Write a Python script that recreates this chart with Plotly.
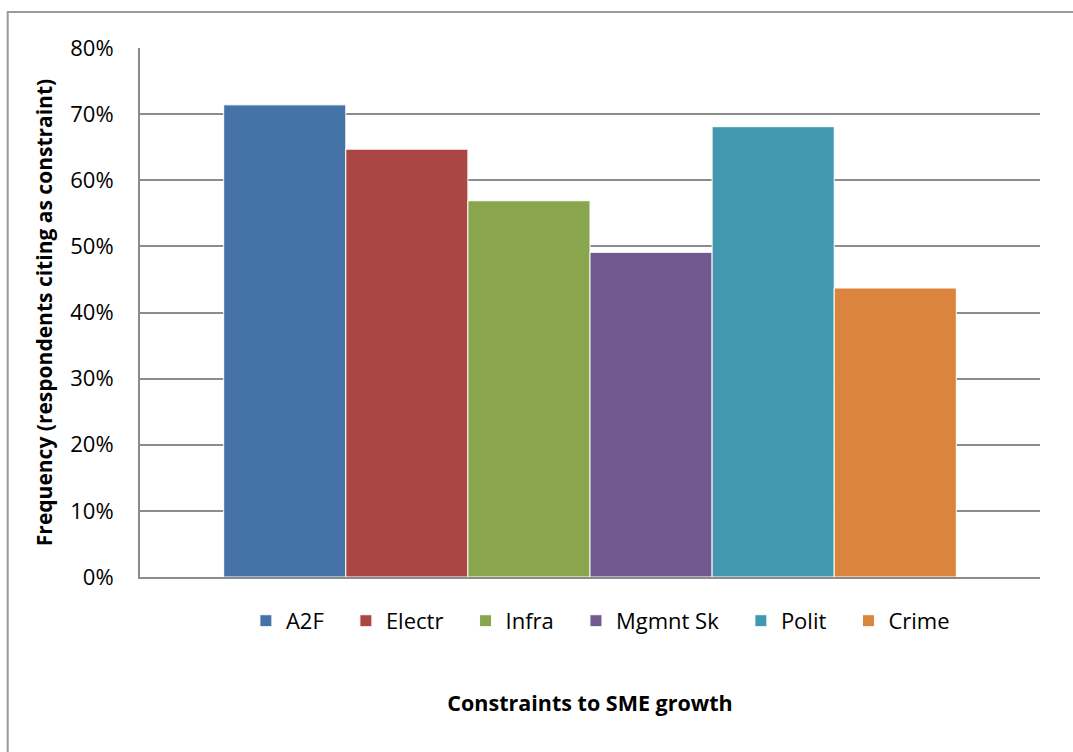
import plotly.graph_objects as go

# Share of respondents citing each constraint to SME growth
series_names = ["A2F", "Electr", "Infra", "Mgmnt Sk", "Polit", "Crime"]
series_values = [0.714, 0.647, 0.569, 0.491, 0.681, 0.437]
series_colors = ["#4572A7", "#AA4643", "#89A54E", "#71588F", "#4198AF", "#DB843D"]
category = [""]

y_ticks = [0, 0.1, 0.2, 0.3, 0.4, 0.5, 0.6, 0.7, 0.8]

FONT = "Open Sans"
GRID = "#8c8c8c"
LEGEND_PAD = "\u00a0" * 3  # extra room between legend entries

fig = go.Figure()
for name, val, col in zip(series_names, series_values, series_colors):
    fig.add_trace(go.Bar(
        x=category, y=[val], name=name + LEGEND_PAD,
        marker=dict(color=col, line=dict(color="white", width=1)),
        hovertemplate=name + ": %{y:.1%}<extra></extra>",
    ))

fig.update_layout(
    width=1073, height=752,
    margin=dict(l=140, r=33, t=48, b=175, autoexpand=False),
    paper_bgcolor="white", plot_bgcolor="white",
    barmode="group", bargap=0.186, bargroupgap=0,
    font=dict(family=FONT, color="black", size=22),
    showlegend=True,
    legend=dict(
        orientation="h", x=0.521, xanchor="center",
        y=-0.083, yanchor="middle",
        font=dict(family=FONT, size=22, color="black"),
        itemwidth=30, tracegroupgap=0,
        bgcolor="rgba(0,0,0,0)",
    ),
    shapes=[dict(
        type="rect", xref="paper", yref="paper",
        x0=-0.147, x1=1.06, y0=-0.36, y1=1.068,
        line=dict(color="#9a9a9a", width=2), fillcolor="rgba(0,0,0,0)",
        layer="below",
    )],
)

fig.update_xaxes(
    showticklabels=False, ticks="",
    showline=True, linecolor=GRID, linewidth=2,
    showgrid=False, zeroline=False,
    title=dict(text="<b>Constraints to SME growth</b>",
               font=dict(family=FONT, size=21.5), standoff=118),
    automargin=False,
)

fig.update_yaxes(
    range=[0, 0.8], tickvals=y_ticks, tickformat=".0%",
    showline=True, linecolor=GRID, linewidth=2, mirror=False,
    showgrid=True, gridcolor=GRID, gridwidth=1.5,
    zeroline=False, ticks="", ticklabelstandoff=20,
    tickfont=dict(family=FONT, size=22),
    title=dict(text="<b>Frequency (respondents citing as constraint)</b>",
               font=dict(family=FONT, size=21), standoff=12),
    automargin=False,
)

fig.write_html("out.html")
